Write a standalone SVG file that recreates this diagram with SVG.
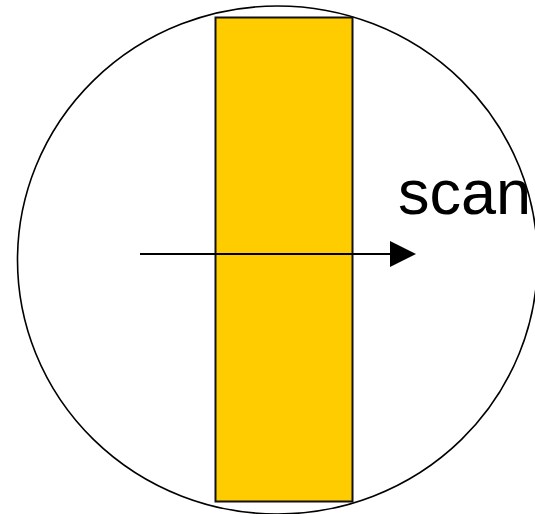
<svg xmlns="http://www.w3.org/2000/svg" width="535" height="514" viewBox="0 0 535 514">
<style>
.outline{fill:none;stroke:#000;stroke-width:1.6}
.band{fill:#FFCC00;stroke:#111;stroke-width:2}
.lbl{font-family:"Liberation Sans",Arial,sans-serif;font-size:63px;fill:#000}
.conn{stroke:#000;stroke-width:2;fill:none}
</style>
<defs>
<marker id="ah" markerWidth="26" markerHeight="26" refX="0" refY="0" viewBox="0 -13 26 26" markerUnits="userSpaceOnUse" orient="auto">
<path d="M0,-13 L26,0 L0,13 Z" fill="#000"/>
</marker>
</defs>
<g id="circle"><ellipse class="outline" cx="277.5" cy="260" rx="260" ry="254"/></g>
<g id="band"><rect class="band" x="215.5" y="17.5" width="137" height="484"/></g>
<g id="connectors"><line class="conn" x1="140" y1="254" x2="390" y2="254" marker-end="url(#ah)"/></g>
<g id="label"><text class="lbl" x="398" y="214">scan</text></g>
</svg>
